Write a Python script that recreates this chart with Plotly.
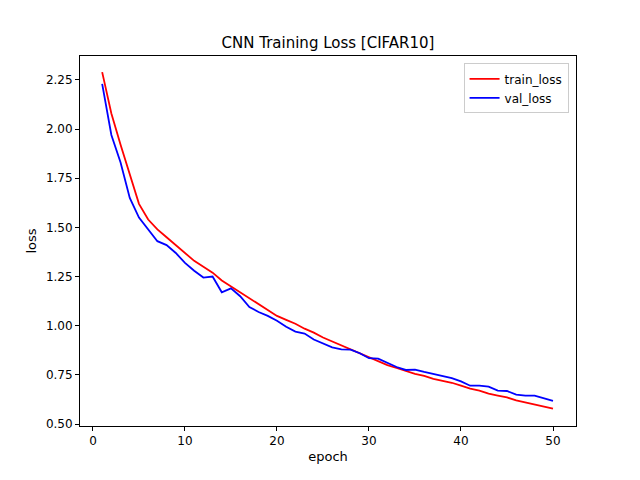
import plotly.graph_objects as go

epochs = list(range(1, 51))
train_loss = [2.29, 2.08, 1.92, 1.77, 1.62, 1.54, 1.49, 1.45, 1.41, 1.37,
              1.33, 1.30, 1.27, 1.23, 1.20, 1.17, 1.14, 1.11, 1.08, 1.05,
              1.03, 1.01, 0.985, 0.965, 0.94, 0.92, 0.90, 0.88, 0.86, 0.84,
              0.82, 0.80, 0.785, 0.77, 0.755, 0.745, 0.73, 0.72, 0.71, 0.695,
              0.68, 0.67, 0.655, 0.645, 0.635, 0.62, 0.61, 0.60, 0.59, 0.578]
val_loss = [2.23, 1.97, 1.83, 1.65, 1.55, 1.49, 1.43, 1.41, 1.37, 1.32,
            1.28, 1.245, 1.25, 1.17, 1.19, 1.15, 1.095, 1.07, 1.05, 1.025,
            0.995, 0.97, 0.96, 0.93, 0.91, 0.89, 0.88, 0.878, 0.86, 0.835,
            0.833, 0.81, 0.79, 0.775, 0.777, 0.765, 0.755, 0.742, 0.733, 0.717,
            0.695, 0.695, 0.69, 0.67, 0.668, 0.65, 0.645, 0.645, 0.63, 0.618]

fig = go.Figure()
fig.add_trace(go.Scatter(x=epochs, y=train_loss, mode="lines", name="train_loss",
                         line=dict(color="red", width=1.8)))
fig.add_trace(go.Scatter(x=epochs, y=val_loss, mode="lines", name="val_loss",
                         line=dict(color="blue", width=1.8)))

axis = dict(showgrid=False, zeroline=False, showline=True, linecolor="black",
            mirror=True, ticks="outside", ticklen=4, tickcolor="black",
            tickfont=dict(size=12, color="black"))
fig.update_xaxes(range=[-1.41, 52.5], tickvals=[0, 10, 20, 30, 40, 50],
                 title=dict(text="epoch", font=dict(size=13, color="black"), standoff=4), **axis)
fig.update_yaxes(range=[0.49, 2.372], tickvals=[0.5, 0.75, 1.0, 1.25, 1.5, 1.75, 2.0, 2.25],
                 tickformat=".2f",
                 title=dict(text="loss", font=dict(size=13, color="black"), standoff=6), **axis)

fig.update_layout(
    width=640, height=480,
    margin=dict(l=72, r=72, t=48, b=62),
    paper_bgcolor="white", plot_bgcolor="white",
    font=dict(family="DejaVu Sans", color="black"),
    title=dict(text="CNN Training Loss [CIFAR10]", x=0.5, xanchor="center",
               y=0.927, yanchor="middle", font=dict(size=15, color="black")),
    legend=dict(x=0.985, y=0.98, xanchor="right", yanchor="top",
                bgcolor="white", bordercolor="#cccccc", borderwidth=1,
                font=dict(size=12)),
    showlegend=True,
)

fig.write_html("out.html")
